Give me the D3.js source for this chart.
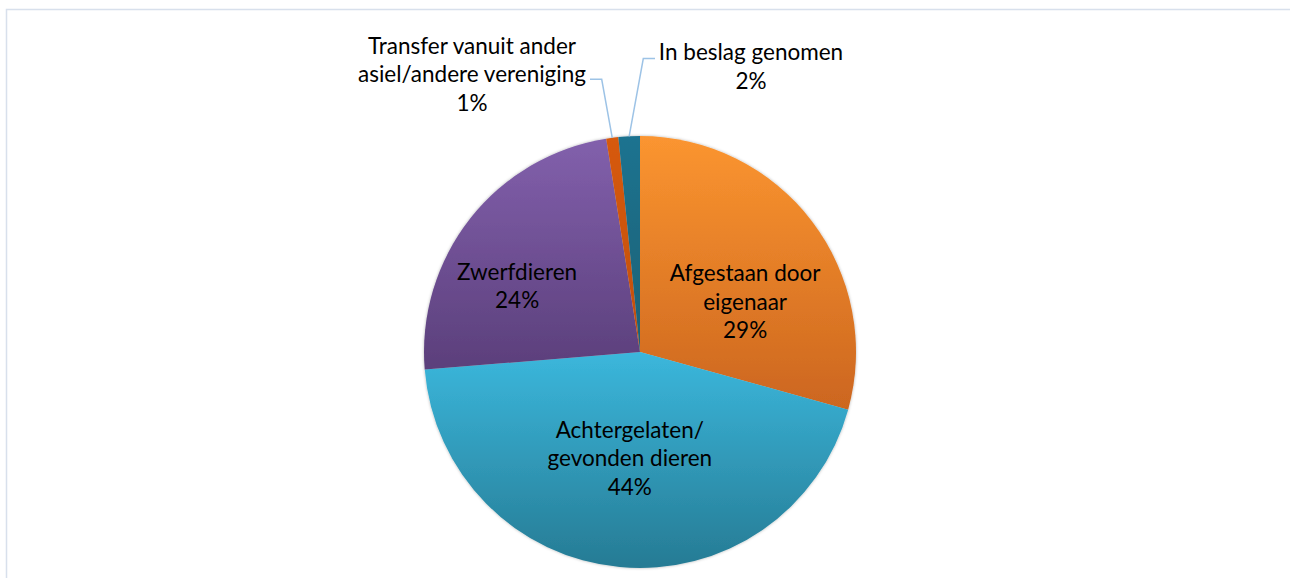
<!DOCTYPE html>
<html>
<head>
<meta charset="utf-8">
<script src="https://cdn.jsdelivr.net/npm/d3@7"></script>
<style>
  body { margin: 0; background: #fff; }
  svg { display: block; }
  .lbl { font-family: Lato, "Liberation Sans", sans-serif; font-size: 22.5px; fill: #000; }
</style>
</head>
<body>
<svg id="chart" width="1290" height="578"></svg>
<script>
// data
const categories = ["Afgestaan door eigenaar", "Achtergelaten/ gevonden dieren", "Zwerfdieren",
                    "Transfer vanuit ander asiel/andere vereniging", "In beslag genomen"]
const values = [29.3, 44.4, 23.8, 0.9, 1.6]
const labelLines = [["Afgestaan door", "eigenaar"], ["Achtergelaten/", "gevonden dieren"], ["Zwerfdieren"],
                    ["Transfer vanuit ander", "asiel/andere vereniging"], ["In beslag genomen"]]

// styling: gradient top/bottom per slice
const colorsTop = ["#fb9530", "#3bb7dc", "#8260ac", "#d65a10", "#1e7390"]
const colorsBottom = ["#cc661f", "#267b94", "#5b3f7b", "#c24e0c", "#1a6175"]

const width = 1290, height = 578
const cx = 640, cy = 352, radius = 216
const lineH = 28.5

// inside labels: nudge from centroid; outside labels: placed beside leader lines
const labelNudge = [[2, 29], [2, -22], [-21, 15]]
const outside = {
    3: { x: -168, y: -298.5, elbow: [-38.3, -272.7], end: [-50, -272.7] },
    4: { x: 111, y: -292, elbow: [3.3, -293.5], end: [15, -293.5] }
}

const svg = d3.select("#chart")
const defs = svg.append("defs")

const shadow = defs.append("filter").attr("id", "shadow")
    .attr("x", "-10%").attr("y", "-10%").attr("width", "120%").attr("height", "120%")
shadow.append("feDropShadow").attr("dx", 0).attr("dy", 0).attr("stdDeviation", 1.8)
    .attr("flood-color", "#000").attr("flood-opacity", 0.3)

values.forEach((v, i) => {
    let g = defs.append("linearGradient").attr("id", "grad" + i)
        .attr("x1", 0).attr("y1", 0).attr("x2", 0).attr("y2", 1)
    g.append("stop").attr("offset", "0%").attr("stop-color", colorsTop[i])
    g.append("stop").attr("offset", "100%").attr("stop-color", colorsBottom[i])
})

// chart frame
svg.append("rect")
    .attr("x", 6.5).attr("y", 9.5).attr("width", width + 20).attr("height", height + 20)
    .attr("fill", "none").attr("stroke", "#d8e0ec").attr("stroke-width", 1.5)

const pie = d3.pie().sort(null).value(d => d)
const arcs = pie(values)

const arc = d3.arc().innerRadius(0).outerRadius(radius)
const labelArc = d3.arc().innerRadius(radius * 0.6).outerRadius(radius * 0.6)

const g = svg.append("g").attr("transform", "translate(" + cx + "," + cy + ")")

g.append("g").attr("filter", "url(#shadow)")
    .selectAll("path")
    .data(arcs)
    .enter().append("path")
    .attr("d", arc)
    .attr("fill", (d, i) => "url(#grad" + i + ")")

const pct = d => Math.round(d.value) + "%"

arcs.forEach((d, i) => {
    let lines = labelLines[i].concat([pct(d)])
    if (outside[i]) {
        let o = outside[i]
        let a = (d.startAngle + d.endAngle) / 2
        let start = [Math.sin(a) * radius, -Math.cos(a) * radius]
        g.append("polyline")
            .attr("points", [start, o.elbow, o.end].map(p => p.join(",")).join(" "))
            .attr("fill", "none").attr("stroke", "#9dc3e6").attr("stroke-width", 1.5)
        let t = g.append("text").attr("class", "lbl").attr("text-anchor", "middle")
        lines.forEach((l, j) => {
            t.append("tspan").attr("x", o.x).attr("y", o.y + j * lineH).text(l)
        })
    } else {
        let c = labelArc.centroid(d)
        let x = c[0] + labelNudge[i][0]
        let yMid = c[1] + labelNudge[i][1]
        let y0 = yMid + 7 - (lines.length - 1) * lineH / 2
        let t = g.append("text").attr("class", "lbl").attr("text-anchor", "middle")
        lines.forEach((l, j) => {
            t.append("tspan").attr("x", x).attr("y", y0 + j * lineH).text(l)
        })
    }
})
</script>
</body>
</html>
